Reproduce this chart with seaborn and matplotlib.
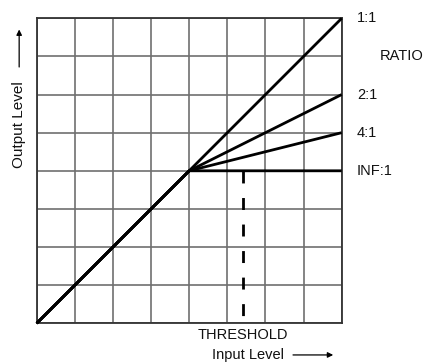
import matplotlib
matplotlib.use("Agg")
import matplotlib.pyplot as plt
import seaborn as sns
import pandas as pd

# ---- data ----
ratio_names = ["1:1", "2:1", "4:1", "INF:1"]
input_level = [0, 4, 8]
out_1_1 = [0, 4, 8]
out_2_1 = [0, 4, 6]
out_4_1 = [0, 4, 5]
out_inf_1 = [0, 4, 4]
threshold_x = 5.4
threshold_y = [4, 0.2]
grid_ticks = list(range(9))

sns.set_theme(style="white")
plt.rcParams['font.family'] = ['Liberation Sans', 'DejaVu Sans']
plt.rcParams['lines.scale_dashes'] = False

rows = []
for name, outs in zip(ratio_names, [out_1_1, out_2_1, out_4_1, out_inf_1]):
    for xi, yi in zip(input_level, outs):
        rows.append({"input": xi, "output": yi, "ratio": name})
df = pd.DataFrame(rows)

fig = plt.figure(figsize=(4.30, 3.63), dpi=100)
ax = fig.add_axes([36.7 / 430, (363 - 323.3) / 363, 305 / 430, 305 / 363])

sns.lineplot(data=df, x="input", y="output", hue="ratio",
             palette=["black"] * 4, legend=False, ax=ax,
             linewidth=2.0, sort=False, estimator=None, units="ratio")
for ln in ax.lines:
    ln.set_clip_on(False)
    ln.set_solid_capstyle('butt')
    ln.set_zorder(3)

sns.lineplot(x=[threshold_x, threshold_x], y=threshold_y, ax=ax,
             color="black", linewidth=2.0, linestyle=(0, (8.6, 10.5)),
             estimator=None, sort=False)

ax.set_xlim(0, 8)
ax.set_ylim(0, 8)
ax.set_xticks(grid_ticks)
ax.set_yticks(grid_ticks)
ax.set_xticklabels([])
ax.set_yticklabels([])
ax.tick_params(length=0)
ax.grid(True, color="#707070", linewidth=1.2)
ax.set_axisbelow(True)
ax.set_xlabel("")
ax.set_ylabel("")
for s in ax.spines.values():
    s.set_color("#333333")
    s.set_linewidth(1.3)

fs = 10.5
label_y = [8, 6, 5, 4]
for name, yy in zip(ratio_names, label_y):
    ax.text(8.4, yy, name, ha="left", va="center", fontsize=fs, color="#111111")
ax.text(9.0, 7.0, "RATIO", ha="left", va="center", fontsize=fs, color="#111111")
ax.text(threshold_x, -0.3, "THRESHOLD", ha="center", va="center", fontsize=fs, color="#111111")
ax.text(4.6, -0.83, "Input Level", ha="left", va="center", fontsize=fs, color="#111111")
ax.annotate("", xy=(7.85, -0.83), xytext=(6.65, -0.83), xycoords="data",
            arrowprops=dict(arrowstyle="-|>", color="black", lw=0.9, mutation_scale=8),
            annotation_clip=False)
ax.text(-0.46, 5.2, "Output Level", ha="center", va="center", rotation=90,
        fontsize=11, color="#111111")
ax.annotate("", xy=(-0.46, 7.78), xytext=(-0.46, 6.65), xycoords="data",
            arrowprops=dict(arrowstyle="-|>", color="black", lw=0.9, mutation_scale=8),
            annotation_clip=False)

fig.savefig("out.png", dpi=100)
